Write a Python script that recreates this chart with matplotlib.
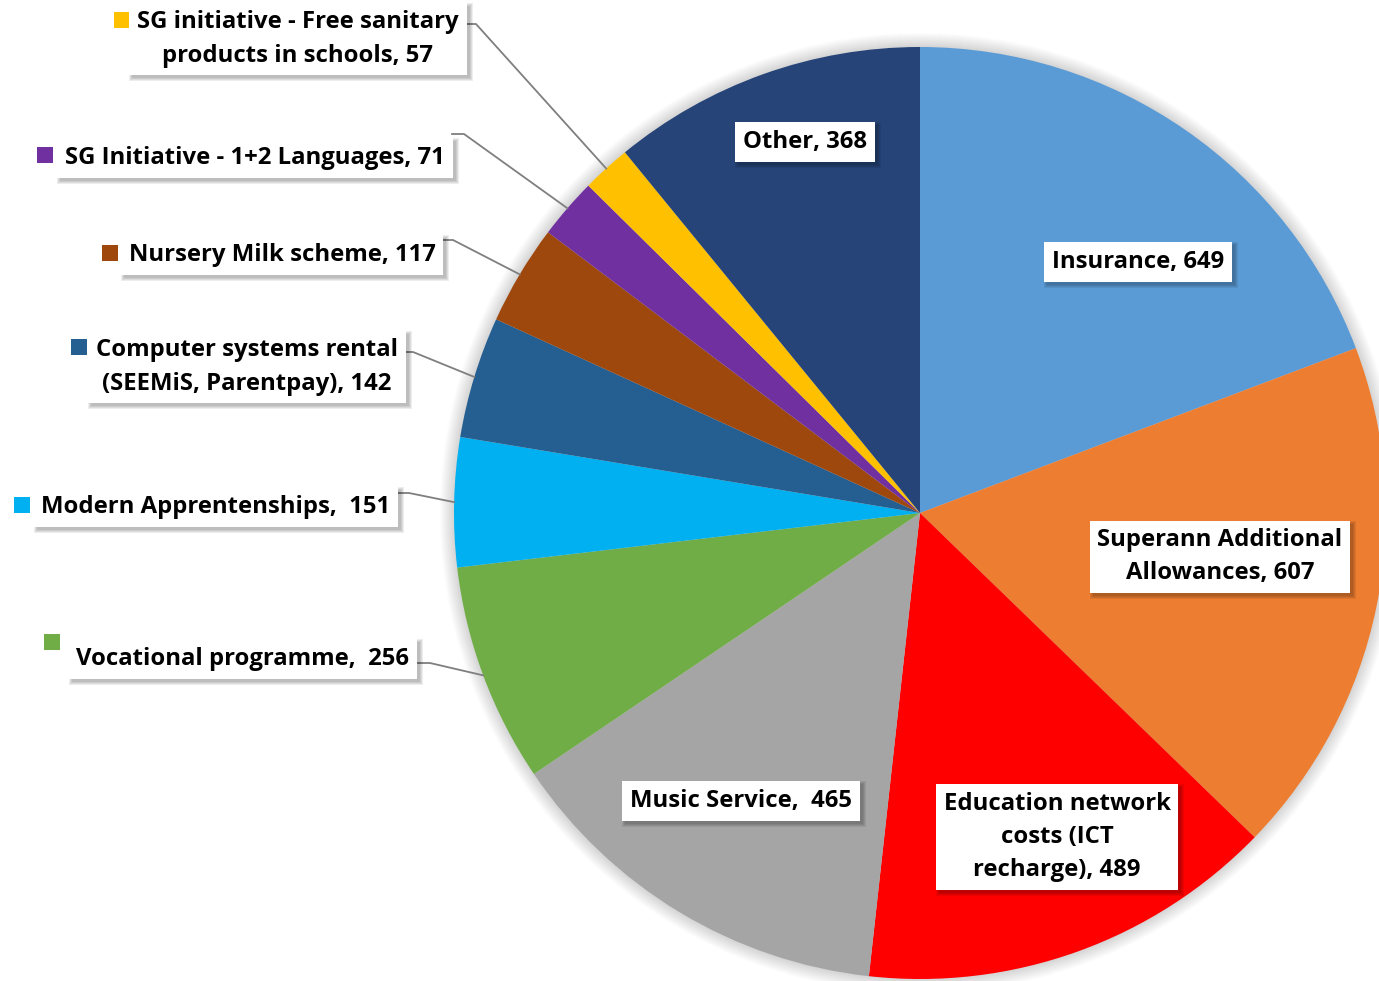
import matplotlib
matplotlib.use("Agg")
import matplotlib.pyplot as plt
from matplotlib.patches import Circle, Rectangle
import numpy as np

plt.rcParams['font.family'] = ['Open Sans', 'DejaVu Sans']

# data, clockwise from 12 o'clock
labels = ["Insurance, 649",
          "Superann Additional\nAllowances, 607",
          "Education network\ncosts (ICT\nrecharge), 489",
          "Music Service,  465",
          "Vocational programme,  256",
          "Modern Apprentenships,  151",
          "Computer systems rental\n(SEEMiS, Parentpay), 142",
          "Nursery Milk scheme, 117",
          "SG Initiative - 1+2 Languages, 71",
          "SG initiative - Free sanitary\nproducts in schools, 57",
          "Other, 368"]
values = [649, 607, 489, 465, 256, 151, 142, 117, 71, 57, 368]
colors = ["#5B9BD5", "#ED7D31", "#FF0000", "#A5A5A5", "#70AD47", "#00B0F0",
          "#255E91", "#9E480E", "#7030A0", "#FFC000", "#264478"]

# layout (pixel coords, y down)
W, H = 1379, 981
cx, cy, R = 920, 513, 466
label_pos = [(1138, 262), (1220, 557), (1057, 837), (741, 801), (243, 659),
             (216, 507), (247, 367), (282, 255), (255, 158), (298, 39), (805, 142)]
# outside labels: legend square + leader line start (box right edge)
outside = {4: ((52, 642), (418, 663)),
           5: ((22, 505), (397, 493)),
           6: ((79, 347), (401, 352)),
           7: ((110, 253), (441, 240)),
           8: ((45, 155), (452, 134)),
           9: ((122, 20), (464, 24))}

fig = plt.figure(figsize=(W / 100, H / 100), dpi=100)
ax = fig.add_axes([0, 0, 1, 1])

# soft glow behind the pie
for k in range(14):
    ax.add_patch(Circle((cx, cy), R + 14 - k, color="gray", alpha=0.025, lw=0, zorder=0))

wedges, _ = ax.pie(values, colors=colors, startangle=-90, counterclock=True,
                   center=(cx, cy), radius=R, wedgeprops=dict(lw=0, zorder=1),
                   frame=True)

ax.set_xlim(0, W)
ax.set_ylim(H, 0)
ax.set_aspect("equal")
ax.axis("off")

texts = []
for i, (lab, (x, y)) in enumerate(zip(labels, label_pos)):
    t = ax.text(x, y, lab, ha="center", va="center", multialignment="center",
                fontsize=17.2, fontweight="bold", color="black", zorder=6,
                linespacing=1.5,
                bbox=dict(boxstyle="square,pad=0.33", fc="white", ec="none"))
    texts.append(t)
    if i in outside:
        (sx, sy), (lx, ly) = outside[i]
        ax.add_patch(Rectangle((sx - 8, sy - 8), 16, 16, color=colors[i], lw=0, zorder=5))
        w = wedges[i]
        mid = np.deg2rad((w.theta1 + w.theta2) / 2)
        ex, ey = cx + R * np.cos(mid), cy + R * np.sin(mid)
        ax.plot([lx, lx + 12, ex], [ly, ly, ey], color="#7f7f7f", lw=1.3, zorder=4)

# soft drop shadows under the label boxes
fig.canvas.draw()
renderer = fig.canvas.get_renderer()
inv = ax.transData.inverted()
for t in texts:
    bb = t.get_bbox_patch().get_window_extent(renderer)
    (x0, y0), (x1, y1) = inv.transform([[bb.x0, bb.y0], [bb.x1, bb.y1]])
    xa, xb = min(x0, x1), max(x0, x1)
    ya, yb = min(y0, y1), max(y0, y1)
    for k in range(4):
        ax.add_patch(Rectangle((xa + 3 - k, ya + 3 - k), xb - xa + 2 * k, yb - ya + 2 * k,
                               color="black", alpha=0.07, lw=0, zorder=5.5))

fig.savefig("out.png", dpi=100)
